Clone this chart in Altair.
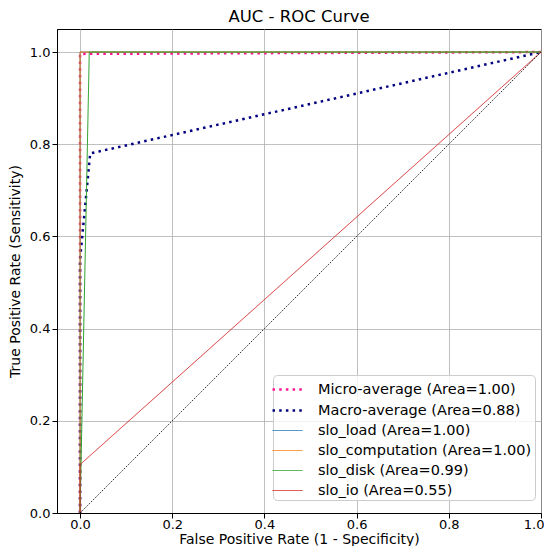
import altair as alt
import pandas as pd

# ---- data ----
series_names = [
    "Micro-average (Area=1.00)",
    "Macro-average (Area=0.88)",
    "slo_load (Area=1.00)",
    "slo_computation (Area=1.00)",
    "slo_disk (Area=0.99)",
    "slo_io (Area=0.55)",
]
micro_fpr = [0.0, 0.0, 1.0]
micro_tpr = [0.0, 0.996, 1.0]
macro_fpr = [0.0, 0.0, 0.022, 1.0]
macro_tpr = [0.0, 0.55, 0.78, 1.0]
load_fpr = [0.0, 0.0, 1.0]
load_tpr = [0.0, 1.0, 1.0]
comp_fpr = [0.0, 0.0, 1.0]
comp_tpr = [0.0, 1.0, 1.0]
disk_fpr = [0.0, 0.02, 1.0]
disk_tpr = [0.0, 1.0, 1.0]
io_fpr = [0.0, 0.0, 1.0]
io_tpr = [0.0, 0.105, 1.0]
diag_fpr = [0.0, 1.0]
diag_tpr = [0.0, 1.0]
tick_values = [0.0, 0.2, 0.4, 0.6, 0.8, 1.0]

colors = ["#ff1493", "#000080", "#1f77b4", "#ff7f0e", "#2ca02c", "#d62728"]
dashes = [[2.5, 4.2], [2.5, 4.2], [1, 0], [1, 0], [1, 0], [1, 0]]
widths = [2.5, 2.5, 1.0, 1.0, 1.0, 1.0]

curves = [
    (micro_fpr, micro_tpr),
    (macro_fpr, macro_tpr),
    (load_fpr, load_tpr),
    (comp_fpr, comp_tpr),
    (disk_fpr, disk_tpr),
    (io_fpr, io_tpr),
]
rows = []
for name, (fx, ty) in zip(series_names, curves):
    for i, (a, b) in enumerate(zip(fx, ty)):
        rows.append({"series": name, "fpr": a, "tpr": b, "i": i})
df = pd.DataFrame(rows)
diag = pd.DataFrame({"fpr": diag_fpr, "tpr": diag_tpr})

xscale = alt.Scale(domain=[-0.05, 1.0], nice=False, zero=False)
yscale = alt.Scale(domain=[0.0, 1.05], nice=False, zero=False)

xaxis = alt.Axis(values=tick_values, format=".1f", title="False Positive Rate (1 - Specificity)",
                 grid=True, labelFlush=1, labelFlushOffset=3, labelPadding=0,
                 titleBaseline="alphabetic", titleY=30.5)
yaxis = alt.Axis(values=tick_values, format=".1f", title="True Positive Rate (Sensitivity)",
                 grid=True, labelFlush=False)

leg = alt.Legend(title=None, orient="none", legendX=216, legendY=346)

base = alt.Chart(df).mark_line(clip=True).encode(
    x=alt.X("fpr:Q", scale=xscale, axis=xaxis),
    y=alt.Y("tpr:Q", scale=yscale, axis=yaxis),
    order="i:Q",
    color=alt.Color("series:N", sort=series_names,
                    scale=alt.Scale(type="ordinal", domain=series_names, range=colors),
                    legend=leg),
    strokeDash=alt.StrokeDash("series:N", sort=series_names,
                              scale=alt.Scale(type="ordinal", domain=series_names, range=dashes),
                              legend=leg),
    strokeWidth=alt.StrokeWidth("series:N", sort=series_names,
                                scale=alt.Scale(type="ordinal", domain=series_names, range=widths),
                                legend=leg),
)

layers = [base.transform_filter(alt.datum.series == s) for s in series_names]

diag_layer = alt.Chart(diag).mark_line(color="black", strokeWidth=0.9, strokeDash=[1.3, 1.3]).encode(
    x=alt.X("fpr:Q", scale=xscale, axis=xaxis),
    y=alt.Y("tpr:Q", scale=yscale, axis=yaxis),
)

chart = alt.layer(*layers, diag_layer).properties(
    width=484,
    height=484,
    title=alt.TitleParams("AUC - ROC Curve", fontSize=16.5, fontWeight="normal",
                          font="DejaVu Sans", color="black", offset=4),
    autosize=alt.AutoSizeParams(type="none"),
    padding={"left": 49, "top": 21, "right": 3, "bottom": 33},
).configure_view(
    stroke="black", strokeWidth=1
).configure_axis(
    labelFont="DejaVu Sans", titleFont="DejaVu Sans",
    labelFontSize=13, titleFontSize=14, titleFontWeight="normal",
    labelColor="black", titleColor="black",
    domainColor="black", domainWidth=1,
    tickColor="black", tickSize=5, tickWidth=1, labelPadding=2,
    gridColor="#b0b0b0", gridWidth=0.8, gridOpacity=1,
).configure_axisY(
    titlePadding=7
).configure_legend(
    labelFont="DejaVu Sans", labelFontSize=14.5, labelColor="black",
    symbolType="M-1.5,0H1.5", symbolSize=400, symbolOpacity=1,
    labelOffset=19, rowPadding=3, padding=3,
    fillColor="rgba(255,255,255,0.8)", strokeColor="#cccccc", cornerRadius=4,
    labelLimit=400,
)

chart.save("out.html", embed_options={"renderer": "svg", "actions": False})
